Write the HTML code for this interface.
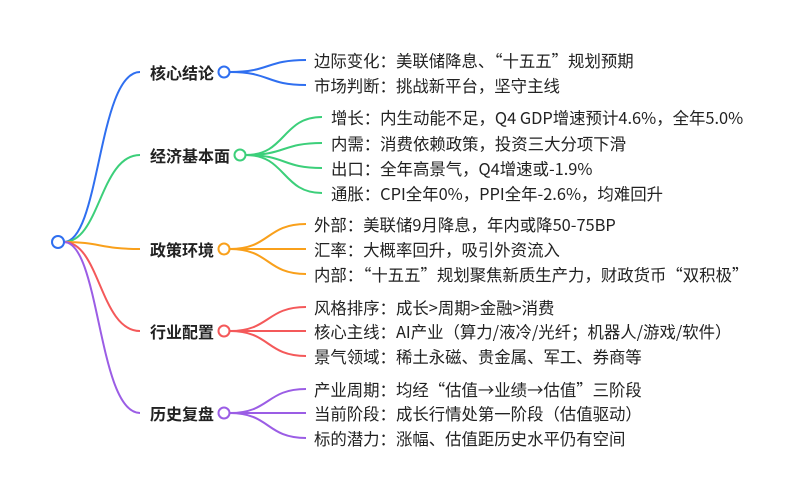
<!DOCTYPE html>
<html><head><meta charset="utf-8"><style>
html,body{margin:0;padding:0;background:#fff;width:800px;height:499px;overflow:hidden}
text{font-family:"Noto Sans CJK SC","Liberation Sans",sans-serif;font-size:16.4px;fill:#222;dominant-baseline:central}
.b{font-weight:bold;font-size:16px}
path{fill:none;stroke-width:2}
</style></head><body>
<svg width="800" height="499" viewBox="0 0 800 499" xmlns="http://www.w3.org/2000/svg">
<path d="M64,242 C100,242 98,72 140,72" stroke="#2f6ff0"/>
<path d="M64,242 C100,242 100,155 140,155" stroke="#3ccf7a"/>
<path d="M64,242 C100,242 100,249 140,249" stroke="#f9a01b"/>
<path d="M64,242 C100,242 100,331 140,331" stroke="#f4595a"/>
<path d="M64,242 C100,242 98,413 140,413" stroke="#9b5de5"/>
<circle cx="58" cy="242" r="6" fill="#fff" stroke="#2f6ff0" stroke-width="2"/>

<text class="b" x="150" y="72">核心结论</text>
<path d="M230,72 C270,72 266,60 306,60" stroke="#2f6ff0"/>
<path d="M230,72 C270,72 266,85 306,85" stroke="#2f6ff0"/>
<circle cx="224" cy="72" r="5.5" fill="#fff" stroke="#2f6ff0" stroke-width="2"/>
<text x="314" y="60">边际变化：美联储降息、“十五五”规划预期</text>
<text x="314" y="85">市场判断：挑战新平台，坚守主线</text>

<text class="b" x="150" y="155">经济基本面</text>
<path d="M246,155 C286,155 282,117 322,117" stroke="#3ccf7a"/>
<path d="M246,155 C286,155 282,143 322,143" stroke="#3ccf7a"/>
<path d="M246,155 C286,155 282,168 322,168" stroke="#3ccf7a"/>
<path d="M246,155 C286,155 282,193 322,193" stroke="#3ccf7a"/>
<circle cx="240" cy="155" r="5.5" fill="#fff" stroke="#3ccf7a" stroke-width="2"/>
<text x="331" y="117">增长：内生动能不足，Q4 GDP增速预计4.6%，全年5.0%</text>
<text x="331" y="143">内需：消费依赖政策，投资三大分项下滑</text>
<text x="331" y="168">出口：全年高景气，Q4增速或-1.9%</text>
<text x="331" y="193">通胀：CPI全年0%，PPI全年-2.6%，均难回升</text>

<text class="b" x="150" y="249">政策环境</text>
<path d="M230,249 C270,249 266,224 306,224" stroke="#f9a01b"/>
<path d="M230,249 C270,249 266,249 306,249" stroke="#f9a01b"/>
<path d="M230,249 C270,249 266,274 306,274" stroke="#f9a01b"/>
<circle cx="224" cy="249" r="5.5" fill="#fff" stroke="#f9a01b" stroke-width="2"/>
<text x="314" y="224">外部：美联储9月降息，年内或降50-75BP</text>
<text x="314" y="249">汇率：大概率回升，吸引外资流入</text>
<text x="314" y="274">内部：“十五五”规划聚焦新质生产力，财政货币“双积极”</text>

<text class="b" x="150" y="331">行业配置</text>
<path d="M230,331 C270,331 266,307 306,307" stroke="#f4595a"/>
<path d="M230,331 C270,331 266,331 306,331" stroke="#f4595a"/>
<path d="M230,331 C270,331 266,356 306,356" stroke="#f4595a"/>
<circle cx="224" cy="331" r="5.5" fill="#fff" stroke="#f4595a" stroke-width="2"/>
<text x="314" y="307">风格排序：成长&gt;周期&gt;金融&gt;消费</text>
<text x="314" y="331">核心主线：AI产业（算力/液冷/光纤；机器人/游戏/软件）</text>
<text x="314" y="356">景气领域：稀土永磁、贵金属、军工、券商等</text>

<text class="b" x="150" y="413">历史复盘</text>
<path d="M230,413 C270,413 266,389 306,389" stroke="#9b5de5"/>
<path d="M230,413 C270,413 266,413 306,413" stroke="#9b5de5"/>
<path d="M230,413 C270,413 266,438 306,438" stroke="#9b5de5"/>
<circle cx="224" cy="413" r="5.5" fill="#fff" stroke="#9b5de5" stroke-width="2"/>
<text x="314" y="389">产业周期：均经“估值→业绩→估值”三阶段</text>
<text x="314" y="413">当前阶段：成长行情处第一阶段（估值驱动）</text>
<text x="314" y="438">标的潜力：涨幅、估值距历史水平仍有空间</text>
</svg>
</body></html>
